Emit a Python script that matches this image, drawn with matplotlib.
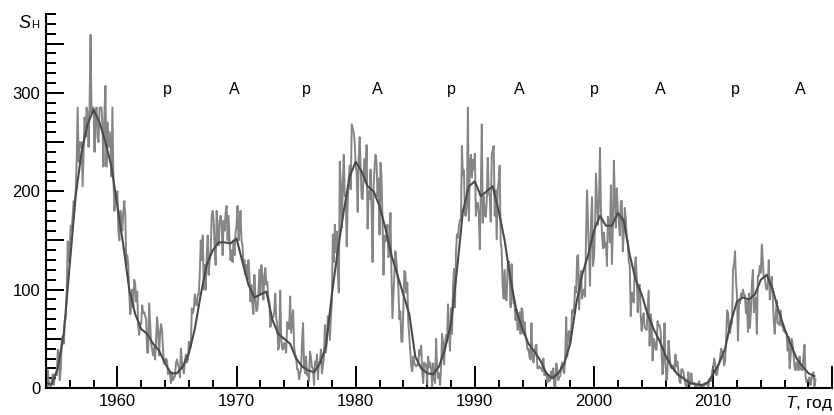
import numpy as np
import matplotlib
matplotlib.use("Agg")
import matplotlib.pyplot as plt
from matplotlib.ticker import MultipleLocator, FixedLocator

plt.rcParams["font.family"] = ["Liberation Sans", "DejaVu Sans"]
plt.rcParams["mathtext.fontset"] = "custom"
plt.rcParams["mathtext.it"] = "Liberation Sans:italic"
plt.rcParams["mathtext.rm"] = "Liberation Sans"

# monthly sunspot number, Jan 1954 .. Aug 2018
monthly = [
    0, 1, 18, 3, 1, 0, 8, 14, 3, 12, 15, 13,                      # 1954
    39, 35, 8, 19, 48, 53, 45, 68, 71, 98, 149, 128,              # 1955
    140, 165, 160, 175, 190, 185, 200, 230, 285, 230, 250, 245,   # 1956
    250, 205, 240, 275, 255, 285, 280, 245, 285, 359, 280, 285,   # 1957
    285, 240, 280, 285, 255, 250, 285, 285, 285, 265, 225, 280,   # 1958
    307, 225, 270, 245, 260, 250, 215, 285, 215, 180, 195, 190,   # 1959
    200, 160, 150, 180, 175, 160, 180, 190, 175, 125, 135, 125,   # 1960
    95, 75, 85, 100, 82, 110, 105, 88, 98, 62, 54, 66,            # 1961
    65, 84, 76, 77, 73, 70, 36, 36, 86, 66, 45, 39,               # 1962
    33, 41, 29, 49, 72, 60, 33, 55, 65, 59, 39, 25,               # 1963
    26, 30, 28, 14, 16, 15, 5, 16, 8, 10, 12, 25,                 # 1964
    29, 24, 20, 11, 40, 27, 20, 15, 28, 34, 26, 28,               # 1965
    47, 41, 42, 81, 76, 80, 95, 85, 84, 95, 95, 117,              # 1966
    150, 130, 155, 100, 125, 100, 135, 155, 115, 130, 140, 175,   # 1967
    180, 170, 140, 125, 180, 160, 145, 170, 175, 165, 135, 170,   # 1968
    160, 178, 185, 150, 175, 150, 130, 140, 128, 150, 135, 158,   # 1969
    165, 185, 150, 160, 180, 150, 145, 125, 130, 115, 125, 110,   # 1970
    130, 115, 88, 105, 85, 75, 115, 92, 78, 80, 95, 120,          # 1971
    95, 125, 115, 90, 112, 122, 105, 108, 92, 88, 62, 66,         # 1972
    72, 72, 77, 96, 71, 66, 39, 43, 99, 51, 40, 39,               # 1973
    46, 43, 36, 67, 66, 60, 93, 56, 67, 79, 42, 34,               # 1974
    32, 19, 19, 9, 15, 19, 47, 66, 23, 15, 32, 13,                # 1975
    14, 7, 37, 31, 21, 20, 3, 27, 23, 34, 9, 26,                  # 1976
    27, 39, 15, 22, 31, 64, 36, 50, 73, 73, 49, 72,               # 1977
    87, 156, 128, 166, 138, 159, 117, 97, 230, 209, 163, 205,     # 1978
    237, 195, 196, 144, 191, 212, 226, 202, 268, 264, 260, 250,   # 1979
    226, 219, 179, 232, 255, 223, 193, 192, 219, 233, 209, 247,   # 1980
    162, 200, 192, 222, 181, 128, 204, 225, 237, 230, 195, 213,   # 1981
    156, 229, 215, 171, 115, 155, 149, 151, 166, 133, 137, 178,   # 1982
    118, 71, 93, 113, 139, 128, 115, 101, 70, 78, 47, 47,         # 1983
    80, 119, 117, 97, 107, 65, 52, 36, 22, 17, 32, 26,            # 1984
    23, 22, 24, 23, 39, 34, 43, 16, 5, 26, 23, 24,                # 1985
    4, 32, 21, 26, 19, 2, 25, 10, 5, 50, 21, 10,                  # 1986
    15, 3, 21, 55, 46, 24, 46, 54, 47, 85, 56, 38,                # 1987
    81, 55, 104, 121, 82, 139, 156, 153, 165, 171, 171, 246,      # 1988
    216, 221, 176, 175, 186, 285, 170, 226, 237, 214, 232, 222,   # 1989
    238, 175, 188, 188, 177, 141, 200, 268, 168, 195, 176, 174,   # 1990
    191, 234, 198, 195, 169, 237, 242, 246, 175, 201, 151, 201,   # 1991
    210, 226, 149, 140, 103, 91, 120, 90, 89, 124, 129, 116,      # 1992
    82, 126, 96, 86, 85, 69, 80, 59, 62, 77, 55, 81,              # 1993
    79, 55, 67, 54, 48, 39, 40, 32, 29, 66, 32, 26,               # 1994
    34, 42, 44, 20, 20, 22, 20, 20, 17, 30, 13, 14,               # 1995
    16, 6, 13, 7, 8, 17, 11, 20, 2, 1, 25, 19,                    # 1996
    8, 11, 12, 22, 26, 18, 15, 34, 72, 32, 55, 58,                # 1997
    46, 58, 79, 77, 82, 103, 97, 134, 135, 80, 107, 119,          # 1998
    91, 97, 100, 93, 155, 201, 166, 137, 104, 170, 194, 124,      # 1999
    133, 166, 218, 192, 166, 188, 244, 181, 156, 142, 158, 143,   # 2000
    147, 124, 174, 165, 148, 206, 126, 163, 231, 193, 163, 203,   # 2001
    180, 169, 155, 190, 190, 139, 157, 183, 172, 153, 149, 128,   # 2002
    125, 73, 97, 94, 87, 122, 133, 114, 77, 103, 105, 74,         # 2003
    58, 71, 76, 61, 61, 59, 79, 99, 43, 75, 68, 28,               # 2004
    50, 47, 39, 39, 68, 63, 64, 58, 35, 14, 29, 66,               # 2005
    24, 8, 17, 48, 36, 22, 20, 21, 23, 17, 34, 22,                # 2006
    27, 17, 7, 5, 19, 19, 16, 10, 4, 1, 3, 16,                    # 2007
    5, 3, 15, 5, 5, 5, 1, 1, 2, 5, 7, 1,                          # 2008
    2, 2, 1, 2, 5, 5, 5, 0, 7, 7, 7, 17,                          # 2009
    21, 30, 25, 13, 14, 22, 26, 31, 40, 37, 35, 23,               # 2010
    27, 48, 79, 76, 58, 56, 64, 66, 120, 126, 139, 109,           # 2011
    94, 48, 87, 86, 96, 92, 100, 95, 94, 76, 88, 57,              # 2012
    96, 61, 78, 107, 120, 77, 86, 92, 55, 114, 114, 124,          # 2013
    117, 146, 129, 112, 112, 103, 100, 107, 130, 90, 104, 113,    # 2014
    93, 67, 55, 75, 89, 66, 66, 64, 79, 64, 62, 58,               # 2015
    57, 56, 54, 38, 52, 20, 32, 50, 45, 33, 21, 18,               # 2016
    26, 26, 18, 32, 19, 19, 18, 33, 44, 13, 6, 8,                 # 2017
    7, 11, 3, 9, 13, 16, 2, 9,                                    # 2018
]

# smoothed curve, one value per half year, 1954.0 .. 2018.5
smoothed = [
    5, 4, 20, 55, 125, 195, 240, 268, 283, 270,       # 1954-1958
    250, 225, 185, 145, 100, 75, 60, 55, 45, 38,      # 1959-1963
    25, 15, 15, 22, 35, 60, 95, 125, 140, 148,        # 1964-1968
    148, 147, 152, 128, 105, 92, 95, 98, 70, 55,      # 1969-1973
    50, 45, 30, 22, 18, 16, 25, 42, 95, 140,          # 1974-1978
    180, 215, 230, 220, 205, 200, 185, 162, 135, 115, # 1979-1983
    95, 75, 32, 20, 15, 14, 22, 40, 65, 120,          # 1984-1988
    180, 205, 210, 195, 200, 205, 180, 150, 110, 78,  # 1989-1993
    60, 45, 37, 28, 15, 10, 15, 25, 45, 85,           # 1994-1998
    115, 135, 160, 175, 165, 165, 178, 170, 135, 110, # 1999-2003
    95, 75, 60, 48, 33, 22, 14, 10, 5, 4,             # 2004-2008
    3, 5, 14, 25, 40, 68, 88, 92, 90, 95,             # 2009-2013
    110, 115, 100, 78, 60, 45, 30, 22, 15, 12,        # 2014-2018
]

phase_labels = ["p", "A", "p", "A", "p", "A", "p", "A", "p", "A"]
phase_years = [1964.2, 1969.8, 1975.9, 1981.8, 1988.0, 1993.7, 2000.0, 2005.6, 2011.9, 2017.3]

x_ticks = [1960, 1970, 1980, 1990, 2000, 2010, 2020]
x_tick_labels = ["1960", "1970", "1980", "1990", "2000", "2010", ""]

t_monthly = 1954 + np.arange(len(monthly)) / 12
t_smoothed = 1954 + np.arange(len(smoothed)) / 2

fig = plt.figure(figsize=(8.34, 4.15), dpi=100)
ax = fig.add_axes([0.055, 0.065, 0.943, 0.901])

ax.plot(t_monthly, monthly, color="#787878", linewidth=1.4, alpha=0.9)
ax.plot(t_smoothed, smoothed, color="#4a4a4a", linewidth=1.5)

for label, yr in zip(phase_labels, phase_years):
    ax.text(yr, 303, label, ha="center", va="center", fontsize=11.5)

ax.set_xlim(1954, 2020)
ax.set_ylim(0, 380)
ax.spines["top"].set_visible(False)
ax.spines["right"].set_visible(False)
for side in ("left", "bottom"):
    ax.spines[side].set_linewidth(1.5)

ax.xaxis.set_major_locator(FixedLocator(x_ticks))
ax.set_xticklabels(x_tick_labels)
ax.xaxis.set_minor_locator(MultipleLocator(2))
ax.yaxis.set_major_locator(MultipleLocator(50))
ax.set_yticklabels([f"{int(v)}" if v % 100 == 0 else "" for v in ax.get_yticks()])
ax.yaxis.set_minor_locator(MultipleLocator(10))

ax.tick_params(axis="x", which="major", direction="in", length=16, width=1.4,
               labelsize=12, pad=4)
ax.tick_params(axis="x", which="minor", direction="in", length=6, width=1.4)
ax.tick_params(axis="y", which="major", direction="in", length=13, width=1.4,
               labelsize=12, pad=4)
ax.tick_params(axis="y", which="minor", direction="in", length=7, width=1.4)

fig.text(0.999, 0.018, "$T$, год", ha="right", va="baseline", fontsize=12.5)
fig.text(0.021, 0.932, "$S$", ha="left", va="baseline", fontsize=13)
fig.text(0.037, 0.932, "Н", ha="left", va="baseline", fontsize=8)

fig.savefig("out.png", dpi=100)
